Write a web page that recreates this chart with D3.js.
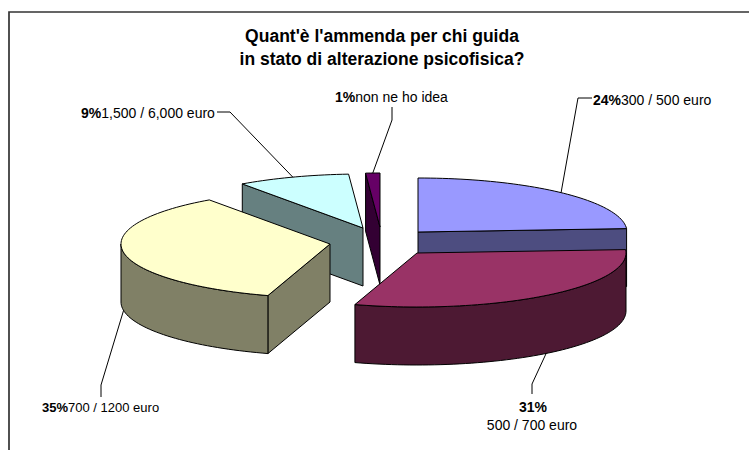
<!DOCTYPE html>
<html><head><meta charset="utf-8">
<script src="https://cdn.jsdelivr.net/npm/d3@7"></script>
<style>html,body{margin:0;padding:0;background:#fff}svg{display:block}text{font-family:"Liberation Sans",Arial,sans-serif;fill:#000}</style>
</head><body><div id="c"></div>
<script>
const categories=["300 / 500 euro","500 / 700 euro","700 / 1200 euro","1,500 / 6,000 euro","non ne ho idea"];
const values=[24,30.8,35.4,8.7,1.1];
const topColors=["#9999FF","#993366","#FFFFCC","#CCFFFF","#660066"];
const sideColors=["#4D4D80","#4D1933","#808066","#668080","#330033"];
const titleLines=["Quant'è l'ammenda per chi guida","in stato di alterazione psicofisica?"];
// layout per slice: exploded apex, leader elbow and end, label start and baseline
const apexX=[418,417,330,363,380], apexY=[232,253,244,228,227];
const elbowX=[578,532,101,230,392], elbowY=[98,384,385,112,120];
const endX=[592,532,101,217,392], endY=[98,394,397,112,107];
const labelX=[593,533,42,81,335], labelY=[105,412,412,118,102];
const labelSize=[14,14,13,14,14];
const stacked=[false,true,false,false,false];
const drawOrder=[0,3,4,2,1];
const W=749,H=450,rx=209,ry=54,depth=58;
const svg=d3.select("#c").append("svg").attr("width",W).attr("height",H);
svg.append("path").attr("d",`M9,${H}V12H${W}`).attr("fill","none").attr("stroke","#333").attr("stroke-width",1.7);
const title=svg.append("text").attr("text-anchor","middle").attr("font-weight","bold").attr("font-size",17.5);
titleLines.forEach((t,i)=>title.append("tspan").attr("x",382).attr("y",42+i*23).text(t));
const arcs=d3.pie().sort(null)(values);
const pt=(i,a,dz=0)=>[apexX[i]+rx*Math.sin(a),apexY[i]-ry*Math.cos(a)+dz];
const rim=(i,a0,a1,dz=0)=>{const n=Math.max(2,Math.ceil((a1-a0)/0.03));return d3.range(n+1).map(k=>pt(i,a0+(a1-a0)*k/n,dz));};
const line=d3.line();
const poly=(pts,fill)=>svg.append("path").attr("d",line(pts)+"Z").attr("fill",fill).attr("stroke","#000").attr("stroke-width",1).attr("stroke-linejoin","round");
const P=Math.PI;
drawOrder.forEach(i=>{
  const a0=arcs[i].startAngle,a1=arcs[i].endAngle,A=[apexX[i],apexY[i]];
  if(a0>P&&a0<2*P) poly([A,pt(i,a0),pt(i,a0,depth),[A[0],A[1]+depth]],sideColors[i]);
  if(a1<P) poly([A,pt(i,a1),pt(i,a1,depth),[A[0],A[1]+depth]],sideColors[i]);
  const s=Math.max(a0,P/2),e=Math.min(a1,1.5*P);
  if(e>s) poly([...rim(i,s,e),...rim(i,s,e,depth).reverse()],sideColors[i]);
  poly([A,...rim(i,a0,a1)],topColors[i]);
});
values.forEach((v,i)=>{
  const mid=(arcs[i].startAngle+arcs[i].endAngle)/2;
  const front=Math.cos(mid)<0;
  svg.append("path").attr("d",line([pt(i,mid,front?depth:0),[elbowX[i],elbowY[i]],[endX[i],endY[i]]]))
    .attr("fill","none").attr("stroke","#000").attr("stroke-width",1);
  const pct=Math.round(v)+"%";
  if(stacked[i]){
    svg.append("text").attr("x",labelX[i]).attr("y",labelY[i]).attr("text-anchor","middle").attr("font-size",14).attr("font-weight","bold").text(pct);
    svg.append("text").attr("x",labelX[i]-1).attr("y",labelY[i]+18).attr("text-anchor","middle").attr("font-size",14).text(categories[i]);
  }else{
    const t=svg.append("text").attr("x",labelX[i]).attr("y",labelY[i]).attr("font-size",labelSize[i]);
    t.append("tspan").attr("font-weight","bold").text(pct);
    t.append("tspan").text(categories[i]);
  }
});
</script>
</body></html>
